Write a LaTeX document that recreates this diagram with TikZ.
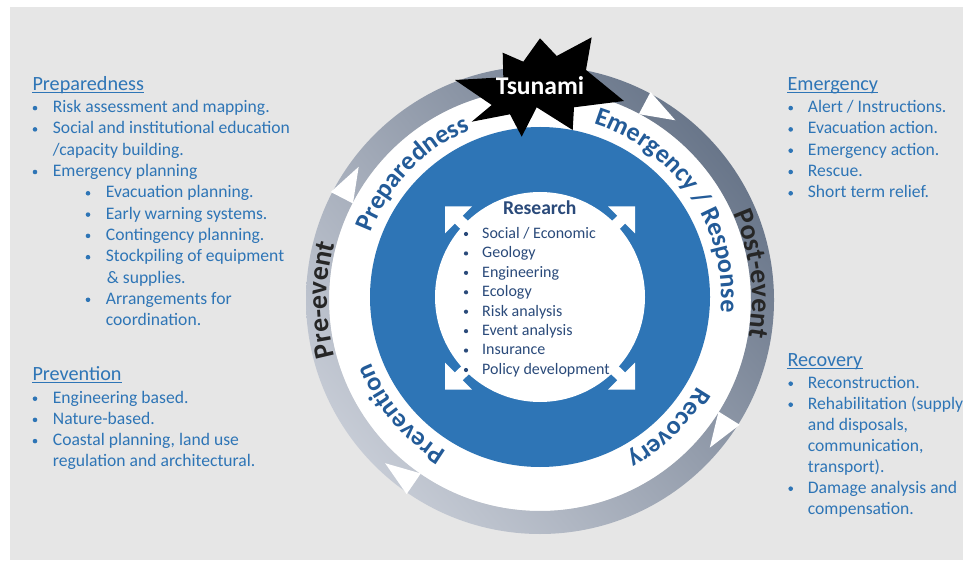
\documentclass[tikz,border=0pt]{standalone}
\usepackage{fontspec}
\setmainfont{Carlito}
\usetikzlibrary{decorations.text,shadings}
\definecolor{bgc}{HTML}{E6E6E6}
\definecolor{tblue}{HTML}{2E75B6}
\definecolor{dblue}{HTML}{2E75B6}
\definecolor{ringtxt}{HTML}{235B98}
\definecolor{restxt}{HTML}{2A4A7A}
\definecolor{evtxt}{HTML}{262626}
\definecolor{gDark}{HTML}{55647A}
\definecolor{gLight}{HTML}{D8DCE4}
\definecolor{gUL}{HTML}{A0A8B6}
\definecolor{gLR}{HTML}{939CAB}
\newcommand{\ringfont}{\fontsize{26}{26}\selectfont\bfseries}
\newcommand{\evfont}{\fontsize{28}{28}\selectfont\bfseries}
\tikzset{
 item/.style={anchor=base west, inner sep=0pt, text=tblue, font=\fontsize{17.6}{21}\selectfont},
 head/.style={anchor=base west, inner sep=0pt, text=tblue, font=\fontsize{20.2}{24}\selectfont},
 dot/.style={circle, fill=tblue, inner sep=0pt, minimum size=4.6pt, yshift=4.6pt},
 ritem/.style={anchor=base west, inner sep=0pt, text=restxt, font=\fontsize{16}{19}\selectfont},
 rdot/.style={circle, fill=restxt, inner sep=0pt, minimum size=4.2pt, yshift=4.3pt},
 uline/.style={draw=tblue, line width=1pt},
 ringlabel/.style={decorate, decoration={text along path, text align=center, text color=ringtxt, text={|\ringfont|#1}}},
 evlabel/.style={decorate, decoration={text along path, text align=center, text color=evtxt, text={|\evfont|#1}}},
}
\begin{document}
\begin{tikzpicture}[x=1pt,y=1pt]
\useasboundingbox (0,0) rectangle (963,560);
\fill[bgc] (10,0) rectangle (963,553);
\coordinate (rc) at (540,260);
\coordinate (bc) at (540,263);
% ring
\fill[white] (rc) circle (211);
\shade[even odd rule, upper right=gDark, lower left=gLight, upper left=gUL, lower right=gLR] (rc) circle (234) (rc) circle (211);
\foreach \a in {62,-32,235.5,152.7}
  \fill[white] ([shift={(\a:210.5)}]rc) -- ([shift={(\a:235.5)}]rc) -- ([shift={(\a-9:225)}]rc) -- cycle;
% blue disk
\fill[dblue] (bc) circle (170);
% research arrows
\foreach \sx/\sy in {1/1,-1/1,1/-1,-1/-1} {
  \draw[white, line width=11pt] (540,262) -- ({540+\sx*84},{262+\sy*81});
  \fill[white] ({540+\sx*95},{262+\sy*91.7}) -- ++({\sx*(-27)},0) -- ++({\sx*27},{\sy*(-27)}) -- cycle;
}
\fill[white] (bc) circle (105);
% ring labels
\path[ringlabel={Preparedness}] ([shift={(166:181)}]bc) arc[start angle=166, end angle=106, radius=181];
\path[ringlabel={Emergency / Response}] ([shift={(80:181)}]bc) arc[start angle=80, end angle=-12, radius=181];
\path[ringlabel={Recovery}] ([shift={(-15:181)}]bc) arc[start angle=-15, end angle=-76, radius=181];
\path[ringlabel={Prevention}] ([shift={(250:181)}]bc) arc[start angle=250, end angle=190, radius=181];
\path[evlabel={Pre-event}] ([shift={(210:213)}]rc) arc[start angle=210, end angle=150, radius=213];
\path[evlabel={Post-event}] ([shift={(37:212)}]rc) arc[start angle=37, end angle=-23, radius=212];
% tsunami star
\fill[black] (502.7,507.3) -- (523.3,498.3) -- (540,521.7) -- (556.7,504) -- (591.7,522.7) -- (586,490) -- (624,459) -- (574,452.7) -- (572.7,430) -- (536.7,452.7) -- (521.7,423.3) -- (510,445.7) -- (471.7,438.3) -- (491.7,455) -- (455,480) -- (503.3,482.7) -- cycle;
\node[anchor=base, text=white, font=\fontsize{25.6}{30}\selectfont\bfseries, inner sep=0pt] (tsu) at (540,465) {Tsunami};
% research list
\node[anchor=base, text=restxt, font=\fontsize{19.6}{22}\selectfont\bfseries, inner sep=0pt] (res) at (539.7,345) {Research};
\foreach \t [count=\i] in {Social / Economic, Geology, Engineering, Ecology, Risk analysis, Event analysis, Insurance, Policy development} {
  \node[rdot] (rb\i) at (466,{321.7-(\i-1)*19.43}) {};
  \node[ritem] (r\i) at (482,{321.7-(\i-1)*19.43}) {\t};
}
% Preparedness
\node[head] (hprep) at (32.3,469.3) {Preparedness};
\draw[uline] ([yshift=-2pt]hprep.base west) -- ([yshift=-2pt]hprep.base east);
\node[dot] (pb1) at (35,447.3) {}; \node[item] (p1) at (52.7,447.3) {Risk assessment and mapping.};
\node[dot] (pb2) at (35,426) {}; \node[item] (p2) at (52.7,426) {Social and institutional education};
\node[item] (p3) at (52.7,404.7) {/capacity building.};
\node[dot] (pb4) at (35,383.4) {}; \node[item] (p4) at (52.7,383.4) {Emergency planning};
\node[dot] (pb5) at (88,362.1) {}; \node[item] (p5) at (105.7,362.1) {Evacuation planning.};
\node[dot] (pb6) at (88,340.8) {}; \node[item] (p6) at (105.7,340.8) {Early warning systems.};
\node[dot] (pb7) at (88,319.5) {}; \node[item] (p7) at (105.7,319.5) {Contingency planning.};
\node[dot] (pb8) at (88,298.2) {}; \node[item] (p8) at (105.7,298.2) {Stockpiling of equipment};
\node[item] (p9) at (106.7,276.9) {\& supplies.};
\node[dot] (pb10) at (88,255.6) {}; \node[item] (p10) at (105.7,255.6) {Arrangements for};
\node[item] (p11) at (105.7,234.3) {coordination.};
% Prevention
\node[head] (hprev) at (32.3,179.3) {Prevention};
\draw[uline] ([yshift=-2pt]hprev.base west) -- ([yshift=-2pt]hprev.base east);
\node[dot] (vb1) at (35,156.7) {}; \node[item] (v1) at (52.7,156.7) {Engineering based.};
\node[dot] (vb2) at (35,135.5) {}; \node[item] (v2) at (52.7,135.5) {Nature-based.};
\node[dot] (vb3) at (35,114.3) {}; \node[item] (v3) at (52.7,114.3) {Coastal planning, land use};
\node[item] (v4) at (52.7,93.1) {regulation and architectural.};
% Emergency
\node[head] (hemer) at (787.3,469.3) {Emergency};
\draw[uline] ([yshift=-2pt]hemer.base west) -- ([yshift=-2pt]hemer.base east);
\foreach \t [count=\i] in {Alert / Instructions., Evacuation action., Emergency action., Rescue., Short term relief.} {
  \node[dot] (eb\i) at (790.7,{447.3-(\i-1)*21.3}) {};
  \node[item] (e\i) at (807.7,{447.3-(\i-1)*21.3}) {\t};
}
% Recovery
\node[head] (hrec) at (787.3,194) {Recovery};
\draw[uline] ([yshift=-2pt]hrec.base west) -- ([yshift=-2pt]hrec.base east);
\node[dot] (cb1) at (790.7,171.7) {}; \node[item] (c1) at (807.7,171.7) {Reconstruction.};
\node[dot] (cb2) at (790.7,150.7) {}; \node[item] (c2) at (807.7,150.7) {Rehabilitation (supply};
\node[item] (c3) at (807.7,129.7) {and disposals,};
\node[item] (c4) at (807.7,108.7) {communication,};
\node[item] (c5) at (807.7,87.7) {transport).};
\node[dot] (cb6) at (790.7,66.7) {}; \node[item] (c6) at (807.7,66.7) {Damage analysis and};
\node[item] (c7) at (807.7,45.7) {compensation.};
\end{tikzpicture}
\end{document}
